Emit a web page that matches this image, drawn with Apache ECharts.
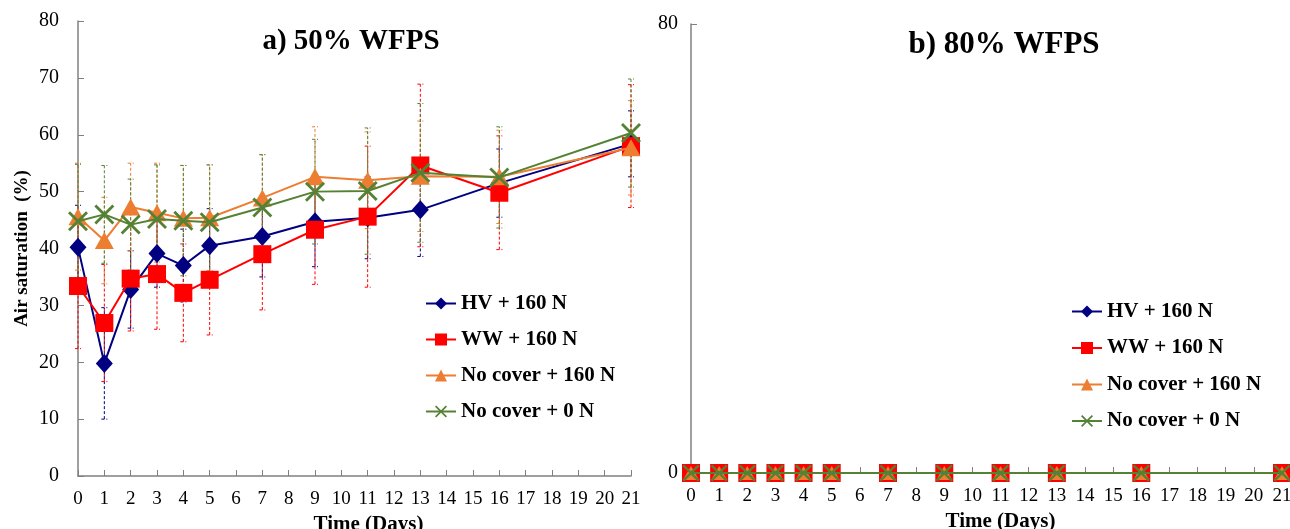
<!DOCTYPE html>
<html>
<head>
<meta charset="utf-8">
<script src="https://cdn.jsdelivr.net/npm/echarts@6/dist/echarts.min.js"></script>
<style>
  html, body { margin: 0; padding: 0; background: #fff; }
  #main { width: 1290px; height: 529px; }
</style>
</head>
<body>
<div id="main"></div>
<script>
// x categories (days)
var days = ['0','1','2','3','4','5','6','7','8','9','10','11','12','13','14','15','16','17','18','19','20','21'];
var sampleDays = [0, 1, 2, 3, 4, 5, 7, 9, 11, 13, 16, 21];
var seriesNames = ['HV + 160 N', 'WW + 160 N', 'No cover + 160 N', 'No cover + 0 N'];

// a) 50% WFPS - means
var hv50 = [40.2, 19.8, 32.8, 39.1, 37.0, 40.5, 42.1, 44.7, 45.4, 46.8, 51.5, 58.4];
var ww50 = [33.4, 26.9, 34.7, 35.5, 32.2, 34.5, 39.0, 43.3, 45.6, 54.6, 49.8, 58.0];
var nc160_50 = [45.6, 41.4, 47.3, 46.3, 45.3, 45.4, 48.9, 52.6, 52.0, 52.7, 52.6, 57.7];
var nc0_50 = [44.8, 46.0, 44.2, 45.2, 44.9, 44.6, 47.2, 50.0, 50.1, 53.3, 52.5, 60.3];

// a) 50% WFPS - error (+/-)
var hv50Err = [7.4, 9.8, 6.8, 5.9, 6.4, 6.5, 7.1, 7.9, 7.2, 8.2, 6.0, 5.8];
var ww50Err = [11.0, 10.3, 9.2, 9.7, 8.6, 9.7, 9.8, 9.6, 12.4, 14.3, 10.0, 10.8];
var nc160_50Err = [9.4, 7.6, 7.7, 8.7, 9.3, 9.3, 7.6, 8.8, 8.5, 9.7, 8.2, 8.3];
var nc0_50Err = [10.0, 8.6, 8.0, 9.5, 9.7, 10.1, 9.3, 9.2, 11.1, 12.2, 8.9, 9.5];

// b) 80% WFPS - means (all zero)
var hv80 = [0, 0, 0, 0, 0, 0, 0, 0, 0, 0, 0, 0];
var ww80 = [0, 0, 0, 0, 0, 0, 0, 0, 0, 0, 0, 0];
var nc160_80 = [0, 0, 0, 0, 0, 0, 0, 0, 0, 0, 0, 0];
var nc0_80 = [0, 0, 0, 0, 0, 0, 0, 0, 0, 0, 0, 0];

var colors = ['#000080', '#FF0000', '#ED7D31', '#548235'];
var symbols = [
  'diamond',
  'rect',
  'triangle',
  'path://M2,0 L10,8 L18,0 L20,2 L12,10 L20,18 L18,20 L10,12 L2,20 L0,18 L8,10 L0,2 Z'
];
var symSizes = [[17, 19], 18, [19, 17], 20];
var FONT = '"Liberation Serif", "Times New Roman", serif';

function pairs(vals) {
  return sampleDays.map(function (d, i) { return [d, vals[i]]; });
}
function errData(vals, errs) {
  return sampleDays.map(function (d, i) { return [d, vals[i] - errs[i], vals[i] + errs[i]]; });
}

function lineSeries(idx, vals, axisIdx, size) {
  return {
    name: seriesNames[idx],
    type: 'line',
    xAxisIndex: axisIdx,
    yAxisIndex: axisIdx,
    data: pairs(vals),
    symbol: symbols[idx],
    symbolSize: size || symSizes[idx],
    color: colors[idx],
    lineStyle: { width: 2, color: colors[idx] },
    itemStyle: { color: colors[idx] },
    z: 3 + idx
  };
}

// dashed error bars with small caps
function errSeries(idx, vals, errs, axisIdx) {
  return {
    name: 'err ' + seriesNames[idx],
    type: 'custom',
    xAxisIndex: axisIdx,
    yAxisIndex: axisIdx,
    data: errData(vals, errs),
    z: 1,
    silent: true,
    renderItem: function (params, api) {
      var lo = api.coord([api.value(0), api.value(1)]);
      var hi = api.coord([api.value(0), api.value(2)]);
      var hw = 3;
      var style = { stroke: colors[idx], lineWidth: 1, lineDash: [3, 2], fill: null };
      return {
        type: 'group',
        children: [
          { type: 'line', shape: { x1: lo[0], y1: lo[1], x2: hi[0], y2: hi[1] }, style: style },
          { type: 'line', shape: { x1: lo[0] - hw, y1: lo[1], x2: lo[0] + hw, y2: lo[1] }, style: style },
          { type: 'line', shape: { x1: hi[0] - hw, y1: hi[1], x2: hi[0] + hw, y2: hi[1] }, style: style }
        ]
      };
    }
  };
}

function xAxisCfg(gridIdx) {
  return {
    type: 'category',
    gridIndex: gridIdx,
    data: days,
    boundaryGap: false,
    name: 'Time (Days)',
    nameLocation: 'middle',
    nameGap: 38,
    nameTextStyle: { fontFamily: FONT, fontSize: 21, fontWeight: 'bold', color: '#000', padding: [0, 0, 0, 28] },
    axisLine: { lineStyle: { color: '#808080', width: 1.5 } },
    axisTick: { inside: true, length: 6, alignWithLabel: true, lineStyle: { color: '#808080' } },
    axisLabel: { fontFamily: FONT, fontSize: 19, color: '#000', margin: 14, interval: 0 },
    splitLine: { show: false }
  };
}

function legendCfg(left, top, gap) {
  return {
    data: seriesNames, orient: 'vertical', left: left, top: top, itemGap: gap,
    padding: 0, itemWidth: 30, itemHeight: 15,
    textStyle: { fontFamily: FONT, fontSize: 21, lineHeight: 21, fontWeight: 'bold', color: '#000' }
  };
}

var chart = echarts.init(document.getElementById('main'));
var option = {
  animation: false,
  backgroundColor: '#fff',
  title: [
    { text: 'a) 50% WFPS', left: 346, top: 22, textAlign: 'center',
      textStyle: { fontFamily: FONT, fontSize: 29, fontWeight: 'bold', color: '#000' } },
    { text: 'b) 80% WFPS', left: 999, top: 24, textAlign: 'center',
      textStyle: { fontFamily: FONT, fontSize: 31, fontWeight: 'bold', color: '#000' } }
  ],
  legend: [
    legendCfg(425, 293, 15),
    legendCfg(1071, 301, 15.5)
  ],
  grid: [
    { left: 78, top: 21, width: 553, height: 455, outerBoundsMode: 'none', containLabel: false },
    { left: 691, top: 24, width: 591, height: 449, outerBoundsMode: 'none', containLabel: false }
  ],
  xAxis: [xAxisCfg(0), xAxisCfg(1)],
  yAxis: [
    {
      type: 'value', gridIndex: 0, min: 0, max: 80, interval: 10,
      name: 'Air saturation  (%)', nameLocation: 'middle', nameGap: 46,
      nameTextStyle: { fontFamily: FONT, fontSize: 19, fontWeight: 'bold', color: '#000' },
      axisLine: { show: true, lineStyle: { color: '#808080', width: 1.5 } },
      axisTick: { show: true, inside: true, length: 6, lineStyle: { color: '#808080' } },
      axisLabel: { fontFamily: FONT, fontSize: 20, color: '#000', margin: 19 },
      splitLine: { show: false }
    },
    {
      type: 'value', gridIndex: 1, min: 0, max: 80, interval: 80,
      axisLine: { show: true, lineStyle: { color: '#808080', width: 1.5 } },
      axisTick: { show: true, inside: true, length: 6, lineStyle: { color: '#808080' } },
      axisLabel: { fontFamily: FONT, fontSize: 20, color: '#000', margin: 13 },
      splitLine: { show: false }
    }
  ],
  series: [
    errSeries(0, hv50, hv50Err, 0),
    errSeries(1, ww50, ww50Err, 0),
    errSeries(2, nc160_50, nc160_50Err, 0),
    errSeries(3, nc0_50, nc0_50Err, 0),
    lineSeries(0, hv50, 0),
    lineSeries(1, ww50, 0),
    lineSeries(2, nc160_50, 0),
    lineSeries(3, nc0_50, 0),
    lineSeries(0, hv80, 1, 14),
    lineSeries(1, ww80, 1, 18),
    lineSeries(2, nc160_80, 1, [16, 14]),
    lineSeries(3, nc0_80, 1, 17)
  ]
};
chart.setOption(option);
</script>
</body>
</html>
